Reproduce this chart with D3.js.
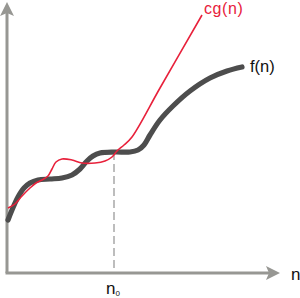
<!DOCTYPE html>
<html>
<head>
<meta charset="utf-8">
<script src="https://cdn.jsdelivr.net/npm/d3@7"></script>
<style>
  body { margin: 0; background: #fff; }
  svg { display: block; }
  .lbl { font-family: "Liberation Sans", Arial, sans-serif; }
</style>
</head>
<body>
<div id="chart"></div>
<script>
// f(n) — thick dark curve
var fN = [1, 5, 11, 17, 23, 31, 43, 55, 65, 73, 80, 86, 93, 108, 123, 131, 137, 143, 153, 166, 183, 203, 220, 235];
var fV = [53, 63, 76, 85, 90, 93, 94, 95, 98, 104, 112, 117, 120, 121, 121, 123, 128, 138, 153, 167, 182, 195, 202, 206];

// c·g(n) — thin red curve
var gN = [1, 8, 15, 23, 29, 35, 41, 45, 49, 55, 65, 75, 88, 98, 105, 110, 117, 125, 153, 195];
var gV = [65, 69, 77, 85, 90, 93, 97, 104, 111, 114, 113, 110, 110, 112, 116, 122, 128, 136, 185, 258];

var n0 = 107, n0Value = 121;
var xMax = 273, yMax = 271;

var width = 300, height = 298;

var svg = d3.select("#chart").append("svg")
    .attr("width", width)
    .attr("height", height);

var x = d3.scaleLinear().domain([0, xMax]).range([7, 280]);
var y = d3.scaleLinear().domain([0, yMax]).range([273, 2]);

var axisColor = "#979793";

// axes
svg.append("line")
    .attr("x1", x(0)).attr("y1", y(0))
    .attr("x2", x(0)).attr("y2", y(yMax) + 8)
    .attr("stroke", axisColor).attr("stroke-width", 3);
svg.append("line")
    .attr("x1", x(0) - 1.5).attr("y1", y(0))
    .attr("x2", x(xMax) - 8).attr("y2", y(0))
    .attr("stroke", axisColor).attr("stroke-width", 3);

// arrow heads
var tipY = y(yMax), tipX = x(xMax);
svg.append("path")
    .attr("d", "M" + x(0) + "," + tipY +
        "L" + (x(0) + 7) + "," + (tipY + 14) +
        "L" + x(0) + "," + (tipY + 11) +
        "L" + (x(0) - 7) + "," + (tipY + 14) + "Z")
    .attr("fill", axisColor);
svg.append("path")
    .attr("d", "M" + tipX + "," + y(0) +
        "L" + (tipX - 14) + "," + (y(0) - 7) +
        "L" + (tipX - 11) + "," + y(0) +
        "L" + (tipX - 14) + "," + (y(0) + 7) + "Z")
    .attr("fill", axisColor);

// dashed n0 line
svg.append("line")
    .attr("x1", x(n0)).attr("y1", y(n0Value))
    .attr("x2", x(n0)).attr("y2", y(0) - 2)
    .attr("stroke", "#bdbdbd").attr("stroke-width", 2)
    .attr("stroke-dasharray", "8,4");

var line = d3.line()
    .x(function(d){ return x(d[0]); })
    .y(function(d){ return y(d[1]); })
    .curve(d3.curveCatmullRom.alpha(0.5));

var fData = fN.map(function(n, i){ return [n, fV[i]]; });
var gData = gN.map(function(n, i){ return [n, gV[i]]; });

svg.append("path")
    .datum(fData)
    .attr("d", line)
    .attr("fill", "none")
    .attr("stroke", "#4d4d4d")
    .attr("stroke-width", 5.2)
    .attr("stroke-linecap", "round");

svg.append("path")
    .datum(gData)
    .attr("d", line)
    .attr("fill", "none")
    .attr("stroke", "#e8213b")
    .attr("stroke-width", 1.6);

// labels
var gEnd = gData[gData.length - 1], fEnd = fData[fData.length - 1];
svg.append("text").attr("class", "lbl")
    .attr("x", x(gEnd[0]) + 2).attr("y", y(gEnd[1]) - 1)
    .attr("fill", "#e8213b").attr("font-size", 16)
    .attr("letter-spacing", 0.6)
    .text("cg(n)");
svg.append("text").attr("class", "lbl")
    .attr("x", x(fEnd[0]) + 8).attr("y", y(fEnd[1]) + 5)
    .attr("fill", "#111").attr("font-size", 16.5)
    .text("f(n)");
svg.append("text").attr("class", "lbl")
    .attr("x", x(xMax) + 11).attr("y", y(0) + 7)
    .attr("fill", "#111").attr("font-size", 17)
    .text("n");

var n0Label = svg.append("text").attr("class", "lbl")
    .attr("x", x(n0) - 8).attr("y", y(0) + 21)
    .attr("fill", "#111").attr("font-size", 17)
    .text("n");
n0Label.append("tspan")
    .attr("font-size", 8).attr("dy", 2)
    .text("0");
</script>
</body>
</html>
